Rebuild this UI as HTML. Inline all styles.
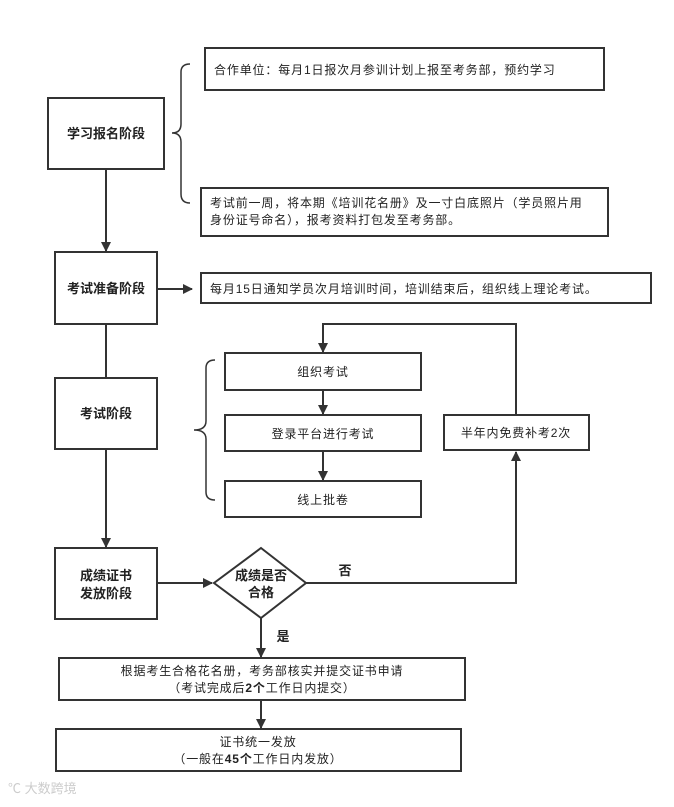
<!DOCTYPE html>
<html><head><meta charset="utf-8"><style>
body{margin:0;background:#fff}
svg text{font-family:"Liberation Sans","Noto Sans CJK SC",sans-serif;fill:#222}
</style></head><body>
<svg width="674" height="802" viewBox="0 0 674 802" xmlns="http://www.w3.org/2000/svg">
<defs><marker id="a" markerWidth="10" markerHeight="10" refX="9" refY="5" orient="auto" markerUnits="userSpaceOnUse"><path d="M0,0 L10,5 L0,10 z" fill="#333"/></marker></defs>
<g fill="none" stroke="#333" stroke-width="2">
<rect x="48" y="98" width="116" height="71"/>
<rect x="205" y="48" width="399" height="42"/>
<rect x="201" y="188" width="407" height="48"/>
<rect x="55" y="252" width="102" height="72"/>
<rect x="201" y="273" width="450" height="30"/>
<rect x="55" y="378" width="102" height="71"/>
<rect x="55" y="548" width="102" height="71"/>
<rect x="225" y="353" width="196" height="37"/>
<rect x="225" y="415" width="196" height="36"/>
<rect x="225" y="481" width="196" height="36"/>
<rect x="444" y="415" width="145" height="35"/>
<rect x="59" y="658" width="406" height="42"/>
<rect x="56" y="729" width="405" height="42"/>
<path d="M261,548 L306,583 L261,618 L214,583 Z"/>
<path d="M190,64 Q181,64 181,72 L181,124 Q181,133 172,133 Q181,133 181,142 L181,194 Q181,203 190,203" stroke-width="1.5"/>
<path d="M215,360 Q206,360 206,368 L206,421 Q206,430 194,430 Q206,430 206,439 L206,492 Q206,500 215,500" stroke-width="1.5"/>
<line x1="106" y1="169" x2="106" y2="251" marker-end="url(#a)"/>
<line x1="157" y1="289" x2="192" y2="289" marker-end="url(#a)"/>
<line x1="106" y1="324" x2="106" y2="378"/>
<line x1="106" y1="449" x2="106" y2="547" marker-end="url(#a)"/>
<line x1="157" y1="583" x2="212" y2="583" marker-end="url(#a)"/>
<polyline points="306,583 516,583 516,452" marker-end="url(#a)"/>
<polyline points="516,415 516,324 323,324 323,352" marker-end="url(#a)"/>
<line x1="323" y1="390" x2="323" y2="414" marker-end="url(#a)"/>
<line x1="323" y1="451" x2="323" y2="480" marker-end="url(#a)"/>
<line x1="261" y1="618" x2="261" y2="657" marker-end="url(#a)"/>
<line x1="261" y1="700" x2="261" y2="728" marker-end="url(#a)"/>
</g>
<g font-size="13" font-weight="bold" text-anchor="middle">
<text x="106" y="138">学习报名阶段</text>
<text x="106" y="293">考试准备阶段</text>
<text x="106" y="418">考试阶段</text>
<text x="106" y="580">成绩证书</text>
<text x="106" y="598">发放阶段</text>
<text x="261" y="580">成绩是否</text>
<text x="261" y="597">合格</text>
<text x="345" y="575">否</text>
<text x="283" y="641">是</text>
</g>
<g font-size="12" letter-spacing="0.85">
<text x="214" y="74">合作单位：每月1日报次月参训计划上报至考务部，预约学习</text>
<text x="210" y="207">考试前一周，将本期《培训花名册》及一寸白底照片（学员照片用</text>
<text x="210" y="224">身份证号命名），报考资料打包发至考务部。</text>
<text x="210" y="293">每月15日通知学员次月培训时间，培训结束后，组织线上理论考试。</text>
<g text-anchor="middle">
<text x="323" y="376">组织考试</text>
<text x="323" y="438">登录平台进行考试</text>
<text x="323" y="504">线上批卷</text>
<text x="516" y="437">半年内免费补考2次</text>
<text x="262" y="675">根据考生合格花名册，考务部核实并提交证书申请</text>
<text x="262" y="692">（考试完成后<tspan font-weight="bold">2个</tspan>工作日内提交）</text>
<text x="258" y="746">证书统一发放</text>
<text x="258" y="763">（一般在<tspan font-weight="bold">45个</tspan>工作日内发放）</text>
</g>
</g>
<text x="8" y="793" font-size="13" style="fill:#ccc">℃ 大数跨境</text>
</svg>
</body></html>
